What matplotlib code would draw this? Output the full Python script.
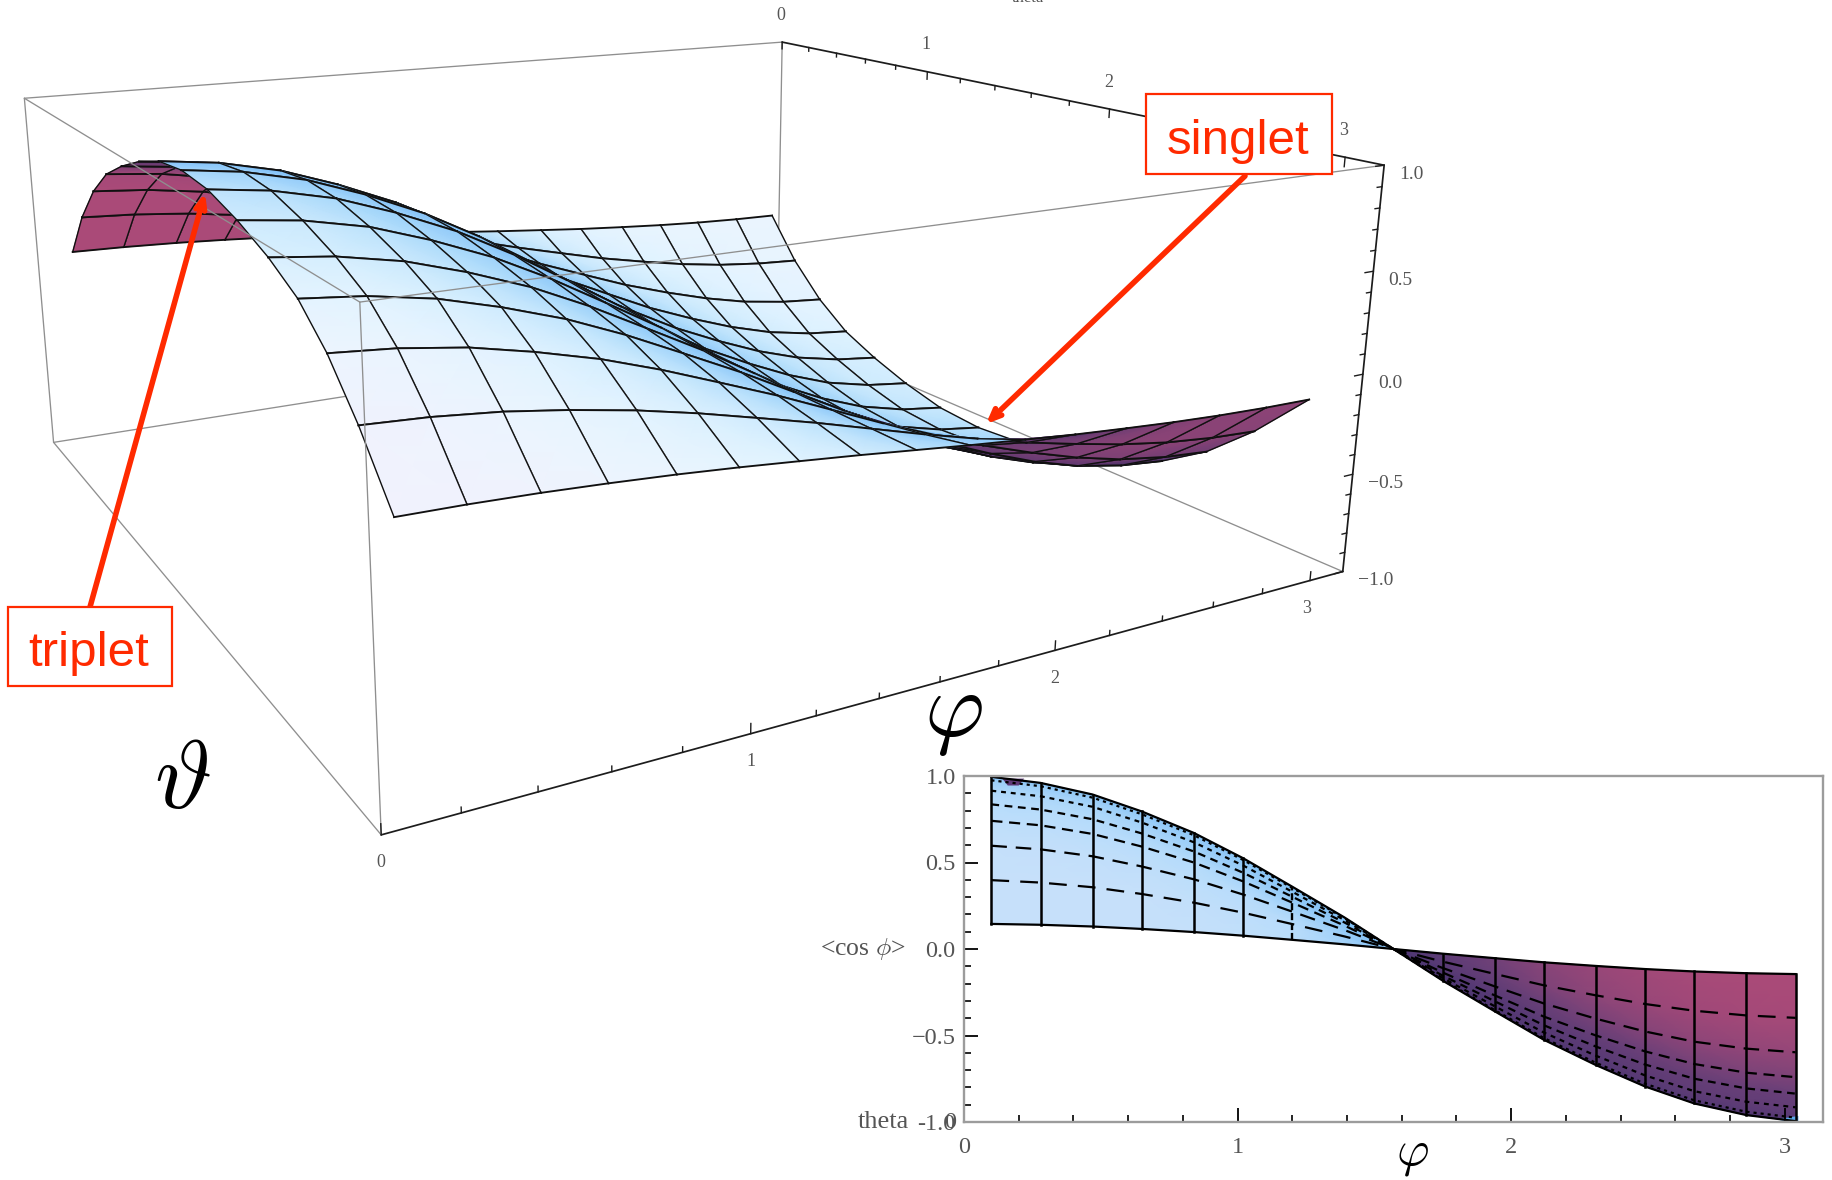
#!/usr/bin/env python3
# surface of <cos phi> over (phi, theta) with a side view below it

import numpy as np
import matplotlib
matplotlib.use("Agg")
import matplotlib.pyplot as plt
from matplotlib.colors import LinearSegmentedColormap
from matplotlib.patches import Rectangle

plt.rcParams['font.family'] = ['Liberation Serif', 'DejaVu Serif']
plt.rcParams['mathtext.fontset'] = 'cm'

## values

phi_mesh = [0.10, 0.28, 0.47, 0.65, 0.84, 1.02, 1.20, 1.39, 1.57,
            1.75, 1.94, 2.12, 2.31, 2.49, 2.67, 2.86, 3.04]
theta_mesh = [0.10, 0.28, 0.47, 0.66, 0.86, 1.07, 1.29, 1.52,
              1.76, 2.01, 2.25, 2.46, 2.65, 2.84, 3.04]

# one row per phi_mesh value, one column per theta_mesh value
cos_table = [
    [0.145, 0.398, 0.597, 0.741, 0.836, 0.915, 0.975, 0.995, 0.975, 0.915, 0.836, 0.741, 0.597, 0.398, 0.145],
    [0.140, 0.384, 0.576, 0.715, 0.806, 0.883, 0.941, 0.960, 0.941, 0.883, 0.806, 0.715, 0.576, 0.384, 0.140],
    [0.130, 0.357, 0.536, 0.665, 0.750, 0.822, 0.875, 0.893, 0.875, 0.822, 0.750, 0.665, 0.536, 0.357, 0.130],
    [0.116, 0.318, 0.477, 0.592, 0.668, 0.731, 0.779, 0.795, 0.779, 0.731, 0.668, 0.592, 0.477, 0.318, 0.116],
    [0.098, 0.268, 0.403, 0.500, 0.564, 0.617, 0.658, 0.671, 0.658, 0.617, 0.564, 0.500, 0.403, 0.268, 0.098],
    [0.077, 0.210, 0.315, 0.391, 0.441, 0.483, 0.515, 0.525, 0.515, 0.483, 0.441, 0.391, 0.315, 0.210, 0.077],
    [0.053, 0.144, 0.216, 0.268, 0.302, 0.331, 0.353, 0.360, 0.353, 0.331, 0.302, 0.268, 0.216, 0.144, 0.053],
    [0.027, 0.073, 0.110, 0.136, 0.154, 0.168, 0.179, 0.183, 0.179, 0.168, 0.154, 0.136, 0.110, 0.073, 0.027],
    [0.000, 0.000, 0.000, 0.000, 0.000, 0.000, 0.000, 0.000, 0.000, 0.000, 0.000, 0.000, 0.000, 0.000, 0.000],
    [-0.027, -0.073, -0.110, -0.136, -0.154, -0.168, -0.179, -0.183, -0.179, -0.168, -0.154, -0.136, -0.110, -0.073, -0.027],
    [-0.053, -0.144, -0.216, -0.268, -0.302, -0.331, -0.353, -0.360, -0.353, -0.331, -0.302, -0.268, -0.216, -0.144, -0.053],
    [-0.077, -0.210, -0.315, -0.391, -0.441, -0.483, -0.515, -0.525, -0.515, -0.483, -0.441, -0.391, -0.315, -0.210, -0.077],
    [-0.098, -0.268, -0.403, -0.500, -0.564, -0.617, -0.658, -0.671, -0.658, -0.617, -0.564, -0.500, -0.403, -0.268, -0.098],
    [-0.116, -0.318, -0.477, -0.592, -0.668, -0.731, -0.779, -0.795, -0.779, -0.731, -0.668, -0.592, -0.477, -0.318, -0.116],
    [-0.130, -0.357, -0.536, -0.665, -0.750, -0.822, -0.875, -0.893, -0.875, -0.822, -0.750, -0.665, -0.536, -0.357, -0.130],
    [-0.140, -0.384, -0.576, -0.715, -0.806, -0.883, -0.941, -0.960, -0.941, -0.883, -0.806, -0.715, -0.576, -0.384, -0.140],
    [-0.145, -0.398, -0.597, -0.741, -0.836, -0.915, -0.975, -0.995, -0.975, -0.915, -0.836, -0.741, -0.597, -0.398, -0.145],
]

angle_ticks = [0, 1, 2, 3]
z_ticks = [-1.0, -0.5, 0.0, 0.5, 1.0]
z_tick_labels = ['\u22121.0', '\u22120.5', '0.0', '0.5', '1.0']
inset_y_labels = ['-1.0', '\u22120.5', '0.0', '0.5', '1.0']

# stray patches of the other colour in the side view
stray_purple_phi = [0.14, 0.22, 0.20, 0.16]
stray_purple_z = [0.985, 0.985, 0.945, 0.945]
stray_blue_phi = [2.97, 3.05, 3.05, 3.00]
stray_blue_z = [-0.985, -0.965, -0.995, -0.995]

## where the box corners sit in the picture (phi, theta, z) -> pixel
PI = np.pi
box_corners = {
    'A': ((0, PI, -1), (381, 836)), 'B': ((PI, PI, -1), (1342, 570)),
    'C': ((PI, 0, -1), (778, 330)), 'D': ((0, 0, -1), (53, 441)),
    'At': ((0, PI, 1), (360, 302)), 'Bt': ((PI, PI, 1), (1385, 166)),
    'Ct': ((PI, 0, 1), (781, 41)), 'Dt': ((0, 0, 1), (25, 99)),
}


def fit_camera(corners):
    rows, rhs = [], []
    for (x, y, z), (u, v) in corners.values():
        rows.append([x, y, z, 1, 0, 0, 0, 0, -u*x, -u*y, -u*z])
        rhs.append(u)
        rows.append([0, 0, 0, 0, x, y, z, 1, -v*x, -v*y, -v*z])
        rhs.append(v)
    sol = np.linalg.lstsq(np.array(rows, float), np.array(rhs, float), rcond=None)[0]
    return np.append(sol, 1.0).reshape(3, 4)


P = fit_camera(box_corners)


def project(x, y, z):
    x, y, z = np.asarray(x, float), np.asarray(y, float), np.asarray(z, float)
    w = P[2, 0]*x + P[2, 1]*y + P[2, 2]*z + P[2, 3]
    u = (P[0, 0]*x + P[0, 1]*y + P[0, 2]*z + P[0, 3]) / w
    v = (P[1, 0]*x + P[1, 1]*y + P[1, 2]*z + P[1, 3]) / w
    return u, v


fig = plt.figure(figsize=(18.33, 11.80), dpi=100, facecolor='white')
ax = fig.add_axes([0, 0, 1, 1])
ax.set_xlim(0, 1833)
ax.set_ylim(1180, 0)
ax.axis('off')
ax.autoscale(False)

GREY = '#8f8f8f'
DARK = '#1c1c1c'
RED = '#ff2a00'
TEXT = '#555555'

top_cmap = LinearSegmentedColormap.from_list('top', [
    (0.0, '#7dbef8'), (0.3, '#a9d9fb'), (0.5, '#c8e8fd'), (0.75, '#e0f3ff'), (0.92, '#ecf4fe'), (1.0, '#f1f2fd')])
under_cmap = LinearSegmentedColormap.from_list('under', [
    (0.0, '#463068'), (0.35, '#6c3d74'), (1.0, '#aa4a78')])

Z = np.array(cos_table)
phis = np.array(phi_mesh)
thetas = np.array(theta_mesh)
PHI, THETA = np.meshgrid(phis, thetas, indexing='ij')

# camera position, used for which side of each cell we look at and its shade
camera = -np.linalg.solve(P[:3, :3], P[:3, 3])
BOX_Z = 0.35
dz_dx = np.gradient(Z * BOX_Z, phis / PI, axis=0)
dz_dy = np.gradient(Z * BOX_Z, thetas / PI, axis=1)
nrm = np.sqrt(dz_dx**2 + dz_dy**2 + 1)
vx = camera[0] / PI - PHI / PI
vy = camera[1] / PI - THETA / PI
vz = (camera[2] - Z) * BOX_Z
vl = np.sqrt(vx**2 + vy**2 + vz**2)
facing = (-dz_dx*vx - dz_dy*vy + vz) / (nrm * vl)

sx, sy = project(PHI, THETA, Z)
depth = np.abs(P[2, 0]*PHI + P[2, 1]*THETA + P[2, 2]*Z + P[2, 3])

# painter's order, far cells first
cells = [(i, j) for i in range(len(phis)-1) for j in range(len(thetas)-1)]
cells.sort(key=lambda c: -depth[c[0]:c[0]+2, c[1]:c[1]+2].mean())

order = 10
for i, j in cells:
    xs = sx[i:i+2, j:j+2]
    ys = sy[i:i+2, j:j+2]
    f = facing[i:i+2, j:j+2]
    if f.mean() > 0:
        ax.pcolormesh(xs, ys, np.abs(f), shading='gouraud', cmap=top_cmap, vmin=0.0, vmax=0.95, zorder=order)
    else:
        ax.pcolormesh(xs, ys, np.abs(f), shading='gouraud', cmap=under_cmap, vmin=0.0, vmax=0.3, zorder=order)
    # lines along phi come out heavier than the ones along theta
    ax.plot(xs[:, 0], ys[:, 0], color='#101010', lw=1.35, zorder=order+0.5)
    ax.plot(xs[:, 1], ys[:, 1], color='#101010', lw=1.35, zorder=order+0.5)
    ax.plot(xs[0, :], ys[0, :], color='#101010', lw=1.0, zorder=order+0.5)
    ax.plot(xs[1, :], ys[1, :], color='#101010', lw=1.0, zorder=order+0.5)
    order += 1


## the box
def edge(a, b, color=GREY, lw=0.95, zorder=1):
    (p0, _), (p1, _) = box_corners[a], box_corners[b]
    u, v = project([p0[0], p1[0]], [p0[1], p1[1]], [p0[2], p1[2]])
    ax.plot(u, v, color=color, lw=lw, zorder=zorder, solid_capstyle='round')


for a, b in [('D', 'C'), ('C', 'Ct'), ('C', 'B'), ('Dt', 'Ct')]:
    edge(a, b)
for a, b in [('D', 'A'), ('D', 'Dt'), ('Dt', 'At'), ('At', 'Bt'), ('At', 'A')]:
    edge(a, b, zorder=1000)
for a, b in [('A', 'B'), ('B', 'Bt'), ('Ct', 'Bt')]:
    edge(a, b, color=DARK, lw=1.25, zorder=1000)

# ticks on the three dark edges
for k in range(16):
    t = k * 0.2
    big = k % 5 == 0
    h = 0.045 if big else 0.024
    u, v = project([t, t], [PI, PI], [-1, -1 + h])
    ax.plot(u, v, color=DARK, lw=1.0, zorder=1000)
    u, v = project([PI, PI], [t, t], [1, 1 - h])
    ax.plot(u, v, color=DARK, lw=1.0, zorder=1000)
for k in range(21):
    zt = -1 + k * 0.1
    h = 0.035 if k % 5 == 0 else 0.02
    u, v = project([PI, PI - h], [PI, PI], [zt, zt])
    ax.plot(u, v, color=DARK, lw=1.0, zorder=1000)

for t in angle_ticks:
    ax.annotate(str(t), xy=project(t, PI, -1), xytext=(-3 if t == 3 else 0, -28), textcoords='offset pixels',
                ha='center', va='center', fontsize=13, color=TEXT, zorder=1001)
    ax.annotate(str(t), xy=project(PI, t, 1), xytext=(-1, 27), textcoords='offset pixels',
                ha='center', va='center', fontsize=13, color=TEXT, zorder=1001)
for zt, lab in zip(z_ticks, z_tick_labels):
    ax.annotate(lab, xy=project(PI, PI, zt), xytext=(15, -9), textcoords='offset pixels',
                ha='left', va='center', fontsize=14, color=TEXT, zorder=1001)

ax.text(1028, -2, 'theta', fontsize=12, color=TEXT, ha='center', va='center')

## big axis symbols
ax.text(953, 717, r'$\varphi$', fontsize=66, color='black', ha='center', va='center', zorder=1001)
ax.text(182, 785, r'$\vartheta$', fontsize=70, color='black', ha='center', va='center', zorder=1001)
ax.text(1412, 1155, r'$\varphi$', fontsize=36, color='black', ha='center', va='center', zorder=1001)

## red callouts
for lab, x0, y0, x1, y1, tail, head in [
        ('singlet', 1146, 94, 1332, 174, (1245, 176), (986, 424)),
        ('triplet', 8, 607, 172, 686, (90, 607), (205, 193))]:
    ax.annotate('', xy=head, xytext=tail, zorder=1002,
                arrowprops=dict(arrowstyle='->,head_length=0.75,head_width=0.32', color=RED, lw=4.0,
                                shrinkA=0, shrinkB=0))
    ax.add_patch(Rectangle((x0, y0), x1 - x0, y1 - y0, facecolor='white', edgecolor=RED, lw=1.6, zorder=1003))
    ax.text((x0 + x1) / 2 - 1, (y0 + y1) / 2 + 7, lab, color=RED, fontsize=35.5, family='Liberation Sans',
            ha='center', va='center', zorder=1004)

## side view
inset = fig.add_axes([964/1833, 1 - 1122/1180, 859/1833, 346/1180])
inset.set_xlim(0, 3.14)
inset.set_ylim(-1, 1)

dz_phi = np.gradient(Z, phis, axis=0)
dz_theta = np.gradient(Z, thetas, axis=1)
slope = np.abs(dz_theta) / np.sqrt(1 + dz_phi**2 + dz_theta**2)
blue_cmap = LinearSegmentedColormap.from_list('side_blue', ['#7fbff5', '#b6dcfb', '#c6e0fa'])
purple_cmap = LinearSegmentedColormap.from_list('side_purple', ['#4c3672', '#6a4078', '#aa4a78'])
half = 8   # rows up to theta = pi/2, the other half lies on top of them
inset.pcolormesh(PHI[:9, :half], Z[:9, :half], slope[:9, :half], shading='gouraud', cmap=blue_cmap, vmin=0, vmax=0.7)
inset.pcolormesh(PHI[8:, :half], Z[8:, :half], slope[8:, :half], shading='gouraud', cmap=purple_cmap, vmin=0, vmax=0.8)
inset.fill(stray_purple_phi, stray_purple_z, color='#5f3a78', lw=0)
inset.fill(stray_blue_phi, stray_blue_z, color='#5aa8e8', lw=0)

level_dashes = {1: (8, 5), 2: (7, 4), 3: (5, 3), 4: (3.5, 2.5), 5: (2.2, 2.2), 6: (1.4, 1.8)}
for j, dashes in level_dashes.items():
    inset.plot(phis, Z[:, j], color='black', lw=1.6, dashes=dashes)
inset.plot(phis, Z[:, 0], color='black', lw=1.6)
inset.plot(phis, Z[:, half - 1], color='black', lw=1.6)
for k in range(len(phis)):
    if k in (7, 8):
        continue
    if k == 6:
        inset.plot([phis[k], phis[k]], [Z[k, 0], Z[k, half - 1]], color='black', lw=1.7, dashes=(3, 1.2))
    else:
        inset.plot([phis[k], phis[k]], [Z[k, 0], Z[k, half - 1]], color='black', lw=1.8)

for side in ['top', 'right', 'left', 'bottom']:
    inset.spines[side].set_color('#9c9c9c')
    inset.spines[side].set_linewidth(1.7)
inset.set_xticks(angle_ticks)
inset.set_xticklabels([str(t) for t in angle_ticks], fontsize=17.5, color=TEXT)
inset.set_yticks(z_ticks)
inset.set_yticklabels(inset_y_labels, fontsize=17.5, color=TEXT)
inset.set_xticks(np.arange(0, 3.1, 0.2), minor=True)
inset.set_yticks(np.arange(-1, 1.01, 0.1), minor=True)
inset.tick_params(axis='y', which='major', direction='in', length=10, width=1.3, color='black', pad=6)
inset.tick_params(axis='x', which='major', direction='in', length=10, width=1.3, color='black', pad=11)
inset.tick_params(axis='both', which='minor', direction='in', length=5, width=1.2, color='black')

inset.annotate('<cos $\\phi$>', xy=(0, 0), xycoords='data', xytext=(-58, 0), textcoords='offset pixels',
               ha='right', va='center', fontsize=18.5, color=TEXT)
inset.annotate('theta', xy=(0, -1), xycoords='data', xytext=(-55, 0), textcoords='offset pixels',
               ha='right', va='center', fontsize=19, color=TEXT)
inset.annotate('0', xy=(0, -1), xycoords='data', xytext=(-8, 0), textcoords='offset pixels',
               ha='right', va='center', fontsize=17.5, color=TEXT)

fig.savefig('out.png', dpi=100)
